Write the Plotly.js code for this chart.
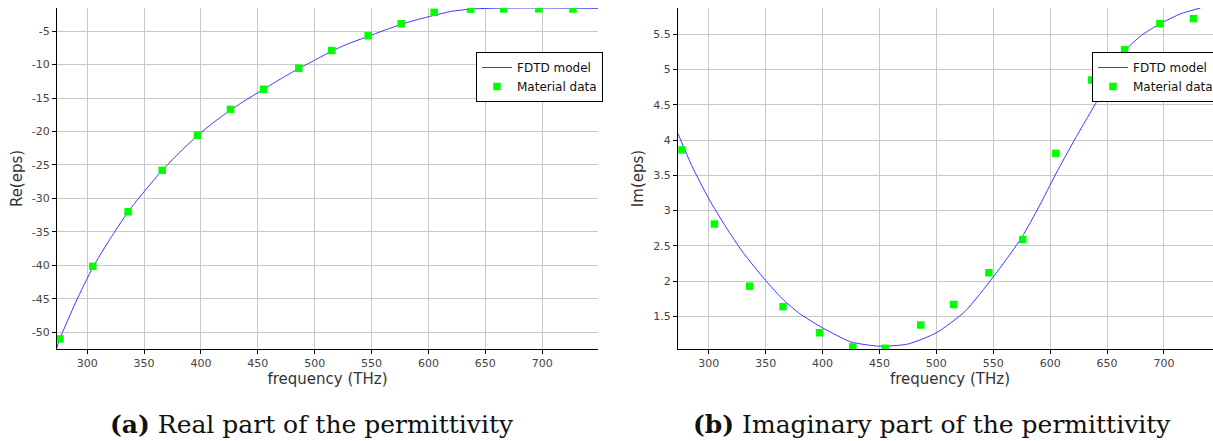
<!DOCTYPE html>
<html>
<head>
<meta charset="utf-8">
<script src="https://cdn.plot.ly/plotly-3.0.1.min.js"></script>
<style>
html,body{margin:0;padding:0;background:#fff;overflow:hidden;}
#chart{width:1230px;height:441px;}
</style>
</head>
<body>
<div id="chart"></div>
<script>
// ---- Data ----
// (a) Real part: FDTD model curve
const reModelFreq = [273.5, 276, 290, 305, 320, 336, 350, 366, 380, 397, 410, 426, 440, 455, 470, 486, 500, 515, 530, 547, 560, 576, 590, 605, 620, 640, 660, 680, 700, 720, 749];
const reModelEps  = [-52.3, -51.0, -45.5, -40.3, -36.1, -32.0, -29.0, -25.8, -23.35, -20.6, -18.8, -16.8, -15.25, -13.7, -12.15, -10.6, -9.35, -8.0, -6.85, -5.8, -4.95, -4.0, -3.3, -2.65, -2.05, -1.68, -1.58, -1.55, -1.55, -1.57, -1.6];
// (a) Real part: material data
const reDataFreq = [276, 305, 336, 366, 397, 426, 455, 486, 515, 547, 576, 605, 637, 666, 697, 727];
const reDataEps  = [-51.0, -40.15, -32.0, -25.8, -20.55, -16.7, -13.7, -10.55, -7.9, -5.7, -3.9, -2.2, -1.72, -1.68, -1.68, -1.7];
// (b) Imaginary part: FDTD model curve
const imModelFreq = [273, 285, 300, 315, 330, 350, 366, 380, 400, 425, 450, 475, 500, 525, 550, 575, 590, 605, 621, 645, 665, 680, 697, 715, 732];
const imModelEps  = [4.09, 3.64, 3.17, 2.77, 2.41, 2.01, 1.73, 1.54, 1.34, 1.14, 1.08, 1.11, 1.27, 1.57, 2.06, 2.62, 3.05, 3.52, 3.99, 4.66, 5.25, 5.48, 5.65, 5.79, 5.87];
// (b) Imaginary part: material data
const imDataFreq = [276.5, 305, 336, 365.3, 397.4, 426.5, 455, 486.3, 515.2, 546.2, 575.9, 605, 636.4, 665.4, 696.5, 725.9];
const imDataEps  = [3.86, 2.81, 1.93, 1.64, 1.27, 1.07, 1.05, 1.38, 1.67, 2.12, 2.59, 3.81, 4.85, 5.28, 5.65, 5.72];

// ---- Tick labels ----
const xTickVals = [300, 350, 400, 450, 500, 550, 600, 650, 700];
const reTickVals = [-50, -45, -40, -35, -30, -25, -20, -15, -10, -5];
const reTickText = ['-50', '-45', '-40', '-35', '-30', '-25', '-20', '-15', '-10', '-5'];
const imTickVals = [1.5, 2, 2.5, 3, 3.5, 4, 4.5, 5, 5.5];
const imTickText = ['1.5', '2', '2.5', '3', '3.5', '4', '4.5', '5', '5.5'];
const seriesNames = ['FDTD model', 'Material data'];
const xTitle = 'frequency (THz)';
const yTitles = ['Re(eps)', 'Im(eps)'];
const captions = ['<b>(a)</b> Real part of the permittivity', '<b>(b)</b> Imaginary part of the permittivity'];

// ---- Styling ----
const W = 1230, H = 441;
const lineStyle = {color: '#3a3aff', width: 1};
const markerStyle = {symbol: 'square', size: 7.5, color: '#00ff00'};
const tickFont = {family: 'DejaVu Sans, sans-serif', size: 11, color: '#444'};
const titleFont = {family: 'DejaVu Sans, sans-serif', size: 15, color: '#333'};

function px(x){return x / W;}
function py(y){return 1 - y / H;}

const traces = [
  {x: reModelFreq, y: reModelEps, type: 'scatter', mode: 'lines', line: Object.assign({shape: 'spline', smoothing: 0.6}, lineStyle), name: seriesNames[0], xaxis: 'x', yaxis: 'y', legend: 'legend'},
  {x: reDataFreq, y: reDataEps, type: 'scatter', mode: 'markers', marker: markerStyle, name: seriesNames[1], xaxis: 'x', yaxis: 'y', legend: 'legend'},
  {x: imModelFreq, y: imModelEps, type: 'scatter', mode: 'lines', line: Object.assign({shape: 'spline', smoothing: 0.6}, lineStyle), name: seriesNames[0], xaxis: 'x2', yaxis: 'y2', legend: 'legend2'},
  {x: imDataFreq, y: imDataEps, type: 'scatter', mode: 'markers', marker: markerStyle, name: seriesNames[1], xaxis: 'x2', yaxis: 'y2', legend: 'legend2'}
];

const xCommon = {
  tickvals: xTickVals, showgrid: true, gridcolor: '#c8c8c8', gridwidth: 1,
  zeroline: false, showline: true, linecolor: '#000', linewidth: 1,
  ticks: 'outside', ticklen: 4, tickcolor: '#000', tickfont: tickFont,
  title: {text: xTitle, font: titleFont, standoff: 4}
};
const yCommon = {
  showgrid: true, gridcolor: '#c8c8c8', gridwidth: 1,
  zeroline: false, showline: true, linecolor: '#000', linewidth: 1,
  ticks: 'outside', ticklen: 4, tickcolor: '#000', tickfont: tickFont
};
const legendCommon = {
  font: {family: 'DejaVu Sans, sans-serif', size: 12, color: '#111'},
  bgcolor: '#fff', bordercolor: '#000', borderwidth: 1,
  xanchor: 'left', yanchor: 'top', tracegroupgap: 0
};

const layout = {
  width: W, height: H,
  margin: {l: 0, r: 0, t: 0, b: 0},
  paper_bgcolor: '#fff', plot_bgcolor: '#fff',
  showlegend: true,
  xaxis: Object.assign({}, xCommon, {domain: [px(57), px(598)], range: [273.5, 749], anchor: 'y'}),
  yaxis: Object.assign({}, yCommon, {domain: [py(349), py(8)], range: [-52.5, -1.55], tickvals: reTickVals, ticktext: reTickText, anchor: 'x',
    title: {text: yTitles[0], font: titleFont, standoff: 5}}),
  xaxis2: Object.assign({}, xCommon, {domain: [px(678), px(1222)], range: [273, 751], anchor: 'y2'}),
  yaxis2: Object.assign({}, yCommon, {domain: [py(349), py(8)], range: [1.04, 5.87], tickvals: imTickVals, ticktext: imTickText, anchor: 'x2',
    title: {text: yTitles[1], font: titleFont, standoff: 6}}),
  legend: Object.assign({}, legendCommon, {x: px(476), y: py(52)}),
  legend2: Object.assign({}, legendCommon, {x: px(1092), y: py(52)}),
  annotations: [
    {text: captions[0], xref: 'paper', yref: 'paper', x: px(312), y: py(424), xanchor: 'center', yanchor: 'middle', showarrow: false,
     font: {family: 'DejaVu Serif, serif', size: 25, color: '#111'}},
    {text: captions[1], xref: 'paper', yref: 'paper', x: px(932), y: py(424), xanchor: 'center', yanchor: 'middle', showarrow: false,
     font: {family: 'DejaVu Serif, serif', size: 25, color: '#111'}}
  ]
};

Plotly.newPlot('chart', traces, layout, {displayModeBar: false, staticPlot: true});
</script>
</body>
</html>
